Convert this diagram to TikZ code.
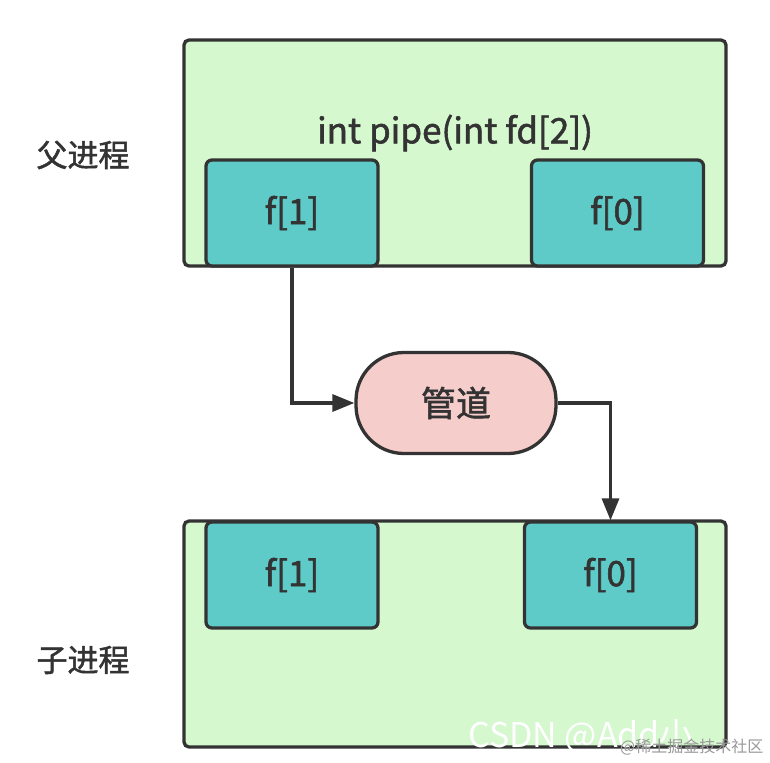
\documentclass[tikz,border=0pt]{standalone}
\usepackage{fontspec}
\setmainfont{Noto Sans CJK SC}[FakeBold=1.6]
\newfontfamily\plainfont{Noto Sans CJK SC}
\usetikzlibrary{arrows.meta}
\definecolor{edge}{HTML}{333333}
\definecolor{procfill}{HTML}{D6F8CF}
\definecolor{fdfill}{HTML}{5ECBC9}
\definecolor{pipefill}{HTML}{F5CDCB}
\begin{document}
\begin{tikzpicture}[x=1pt,y=-1pt,
  proc/.style={draw=edge,line width=3.3pt,fill=procfill,rounded corners=5pt},
  fdbox/.style={draw=edge,line width=3.3pt,fill=fdfill,rounded corners=6pt,minimum width=172pt,minimum height=106pt,font=\fontsize{35}{38}\selectfont,text=edge,inner sep=0pt},
  pipebox/.style={draw=edge,line width=3.3pt,fill=pipefill,rounded corners=48pt,minimum width=200pt,minimum height=101pt,font=\fontsize{35}{38}\selectfont,text=edge},
  lbl/.style={font=\fontsize{31}{34}\selectfont,text=edge},
  conn/.style={draw=edge,line width=3.3pt,-{Triangle[length=22pt,width=17pt]}}]
\useasboundingbox (0,0) rectangle (770,762);
\fill[white] (0,0) rectangle (770,762);
% parent
\draw[proc] (184,40) rectangle (726,266);
\node[font=\fontsize{35}{38}\selectfont,text=edge] (sig) at (455,133) {int pipe(int fd[2])};
\node[fdbox] (pf1) at (292,213) {f[1]};
\node[fdbox] (pf0) at (617.5,213) {f[0]};
\node[lbl] (plbl) at (83,155) {父进程};
% pipe
\node[pipebox] (pipe) at (456,403) {管道};
% child
\draw[proc] (184,521) rectangle (726,747);
\node[fdbox] (cf1) at (292,575) {f[1]};
\node[fdbox] (cf0) at (610.5,575) {f[0]};
\node[lbl] (clbl) at (83,660) {子进程};
% connectors
\draw[conn] (pf1.south) |- (pipe.west);
\draw[conn] (pipe.east) -| (cf0.north);
% watermarks
\node[font=\plainfont\fontsize{34}{36}\selectfont,text=white,anchor=west,inner sep=0pt] (wm1) at (468,736) {CSDN @Add小};
\node[font=\plainfont\fontsize{16}{18}\selectfont,text=black!40,anchor=west,inner sep=0pt] (wm2) at (620,747) {@稀土掘金技术社区};
\end{tikzpicture}
\end{document}
